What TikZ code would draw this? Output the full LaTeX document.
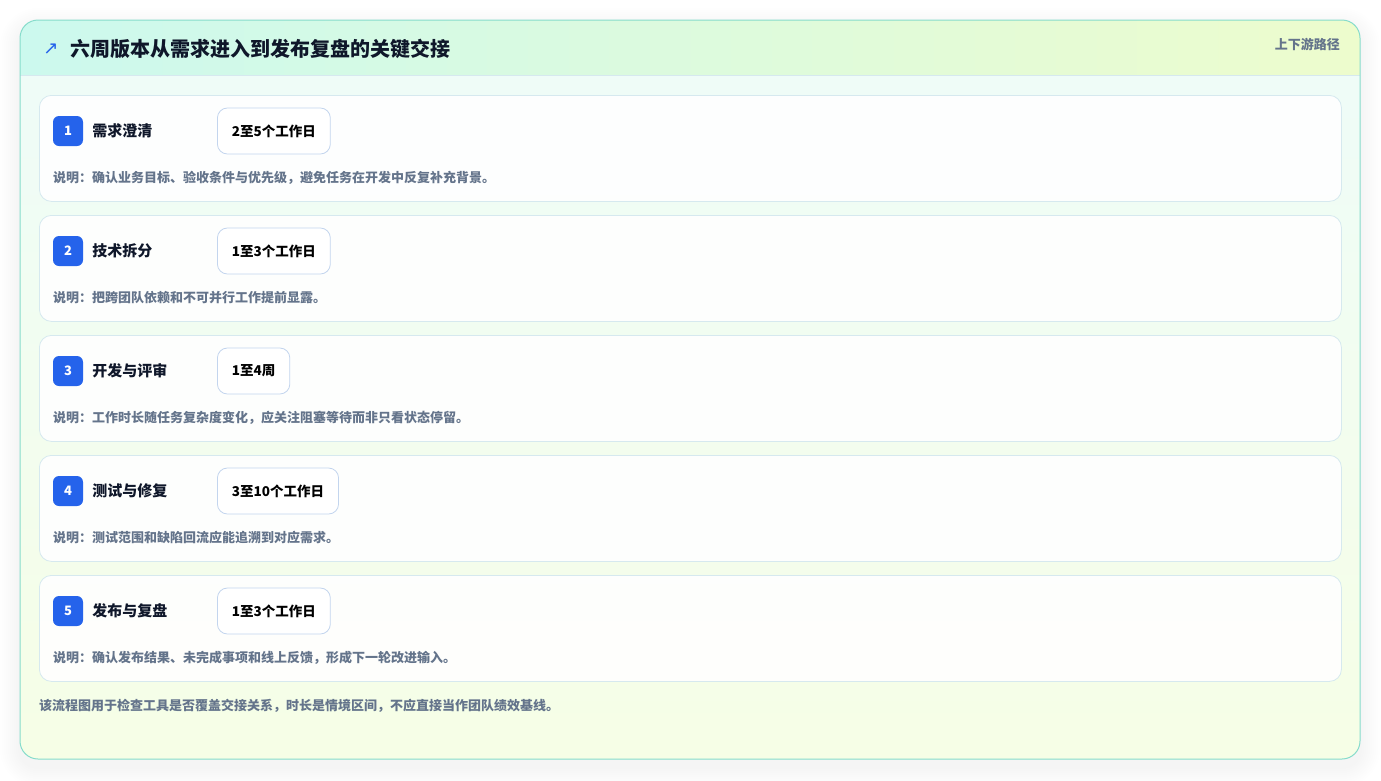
\documentclass[tikz,border=0pt]{standalone}
\usepackage{fontspec}
\setmainfont{Noto Sans CJK SC}
\newfontfamily\symfont{DejaVu Sans}
\usetikzlibrary{positioning, backgrounds}
\definecolor{cardLine}{HTML}{86DCCB}
\definecolor{headLeft}{HTML}{CCF9EE}
\definecolor{headRight}{HTML}{EDFCCD}
\definecolor{bodyTop}{HTML}{EEFCF9}
\definecolor{bodyBottom}{HTML}{F6FEE6}
\definecolor{rowLine}{HTML}{D6E9EF}
\definecolor{pillLine}{HTML}{C3D5EE}
\definecolor{badgeBlue}{HTML}{2563EB}
\definecolor{noteGray}{HTML}{64748B}
\definecolor{inkDark}{HTML}{0F172A}
\tikzset{
  rowCard/.style={draw=rowLine, line width=0.8pt, fill=white, fill opacity=0.9, text opacity=1, rounded corners=12pt, minimum width=1302pt, minimum height=106pt, inner sep=0pt},
  badgeBox/.style={fill=badgeBlue, rounded corners=6pt, minimum width=30pt, minimum height=30pt, inner sep=0pt, text=white, font=\fontsize{13}{15}\selectfont\bfseries},
  stepTitle/.style={inner sep=0pt, text=inkDark, font=\fontsize{15}{17}\selectfont\bfseries},
  spanPill/.style={draw=pillLine, line width=0.8pt, fill=white, rounded corners=10pt, minimum height=46pt, inner xsep=14.5pt, inner ysep=0pt, text=black, font=\fontsize{13.5}{16}\selectfont\bfseries},
  noteText/.style={inner sep=0pt, text=noteGray, font=\fontsize{13}{15}\selectfont\bfseries}
}
\begin{document}
\begin{tikzpicture}[x=1pt, y=-1pt]
    % Canvas
    \fill[white] (0,0) rectangle (1381,780);
    \useasboundingbox (0,0) rectangle (1381,780);

    % Soft shadow of the outer card
    \foreach \s in {2,4,...,20}
        \fill[black, opacity=0.005, rounded corners=18pt+\s*1pt] (20-\s,20-\s+8) rectangle (1360+\s,759+\s+8);

    % Outer card
    \begin{scope}
        \clip[rounded corners=18pt] (20,20) rectangle (1360,759);
        \shade[top color=bodyTop, bottom color=bodyBottom] (20,20) rectangle (1360,759);
        \shade[left color=headLeft, right color=headRight] (20,20) rectangle (1360,75);
        \draw[rowLine, line width=0.8pt] (20,75) -- (1360,75);
    \end{scope}
    \draw[cardLine, line width=1pt, rounded corners=18pt] (20,20) rectangle (1360,759);

    % Header
    \node[inner sep=0pt, text=badgeBlue, font=\symfont\fontsize{18}{18}\selectfont] (headIcon) at (51,49) {↗};
    \node[inner sep=0pt, anchor=west, text=inkDark, font=\fontsize{20}{23}\selectfont\bfseries] (headTitle) at (70,49) {六周版本从需求进入到发布复盘的关键交接};
    \node[inner sep=0pt, anchor=east, text=noteGray, font=\fontsize{13}{15}\selectfont\bfseries] (headTag) at (1340,44) {上下游路径};

    % Steps
    \foreach \n/\name/\span/\note in {
        1/需求澄清/2至5个工作日/确认业务目标、验收条件与优先级，避免任务在开发中反复补充背景。,
        2/技术拆分/1至3个工作日/把跨团队依赖和不可并行工作提前显露。,
        3/开发与评审/1至4周/工作时长随任务复杂度变化，应关注阻塞等待而非只看状态停留。,
        4/测试与修复/3至10个工作日/测试范围和缺陷回流应能追溯到对应需求。,
        5/发布与复盘/1至3个工作日/确认发布结果、未完成事项和线上反馈，形成下一轮改进输入。}
    {
        \pgfmathsetmacro\rowTop{95+120*(\n-1)}
        \node[rowCard, anchor=north west] (row\n) at (39,\rowTop) {};
        \node[badgeBox] (badge\n) at (68,\rowTop+36) {\n};
        \node[stepTitle, anchor=west, right=9pt of badge\n] (title\n) {\name};
        \node[spanPill, anchor=west] (span\n) at (217,\rowTop+36) {\span};
        \node[noteText, anchor=west] (note\n) at (53,\rowTop+83) {说明：\note};
    }

    % Footer
    \node[noteText, anchor=west] (footNote) at (39,706) {该流程图用于检查工具是否覆盖交接关系，时长是情境区间，不应直接当作团队绩效基线。};
\end{tikzpicture}
\end{document}
